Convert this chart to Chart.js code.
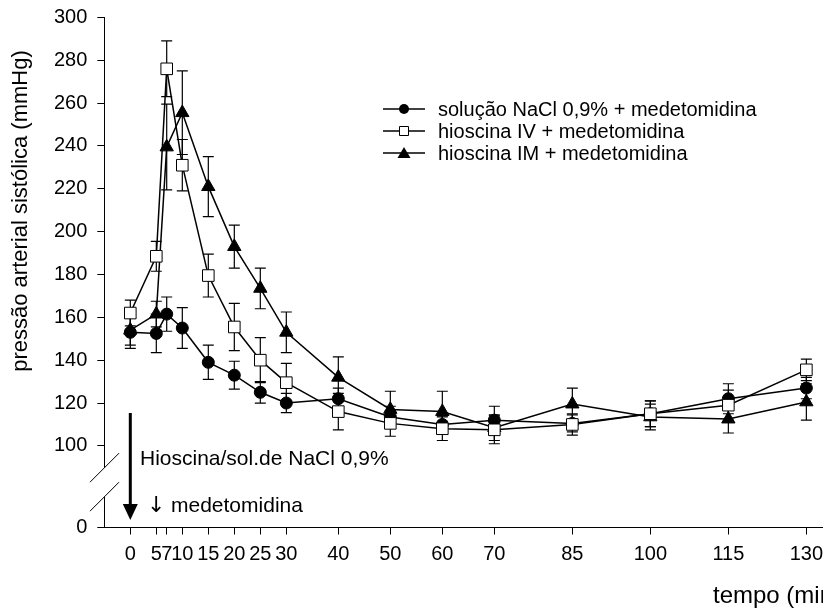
<!DOCTYPE html>
<html>
<head>
<meta charset="utf-8">
<script src="https://cdn.jsdelivr.net/npm/chart.js@4.4.0/dist/chart.umd.min.js"></script>
<style>
html, body { margin: 0; padding: 0; background: #fff; }
#wrap { width: 823px; height: 616px; }
</style>
</head>
<body>
<div id="wrap"><canvas id="chart" width="823" height="616"></canvas></div>
<script>
// tempo (min)
const times = [0, 5, 7, 10, 15, 20, 25, 30, 40, 50, 60, 70, 85, 100, 115, 130];

// pressão arterial sistólica (mmHg), média e erro
const naclMean = [153, 152.5, 161.5, 155, 139, 133, 125, 120, 122, 113.5, 110, 112, 110.5, 115, 122, 127];
const naclErr  = [7.5, 9, 8, 9.5, 8, 6.5, 5, 4.5, 5, 5, 4, 6.5, 4, 6, 7, 5];

const ivMean = [162, 188.5, 276, 231, 179.5, 155.5, 140, 129.5, 116, 110.5, 108, 107.5, 110, 115, 119, 135.5];
const ivErr  = [6, 7, 13, 12, 10, 11, 10.5, 9, 8.5, 6, 5.5, 6.5, 5, 6, 7, 5];

const imMean = [154, 161.5, 239.5, 255.5, 221, 193, 173.5, 153, 132, 117, 116, 108.5, 119.5, 113.5, 112.5, 120.5];
const imErr  = [7, 6, 20, 19.5, 14, 10, 9.5, 9.5, 9.5, 8.5, 9.5, 6, 7.5, 6, 6.5, 8.5];

const seriesLabels = ['solução NaCl 0,9% + medetomidina', 'hioscina IV + medetomidina', 'hioscina IM + medetomidina'];

// axis ticks (the "0" tick sits under the axis break)
const xTicks = times;
const yTicks = [100, 120, 140, 160, 180, 200, 220, 240, 260, 280, 300];
const yBreakBase = 61.9;

const FONT = 'Liberation Sans, Arial, sans-serif';

function toPoints(means) {
    return times.map((t, i) => ({ x: t, y: means[i] }));
}

const errorsByDataset = [naclErr, ivErr, imErr];

// Error bars drawn before the markers so the open squares cover them
const errorBars = {
    id: 'errorBars',
    beforeDatasetsDraw(chart) {
        const ctx = chart.ctx, xs = chart.scales.x, ys = chart.scales.y;
        ctx.save();
        ctx.strokeStyle = '#000';
        ctx.lineWidth = 1.2;
        chart.data.datasets.forEach((ds, d) => {
            const errs = errorsByDataset[d];
            ds.data.forEach((p, i) => {
                const x = xs.getPixelForValue(p.x);
                const yTop = ys.getPixelForValue(p.y + errs[i]);
                const yBot = ys.getPixelForValue(p.y - errs[i]);
                ctx.beginPath();
                ctx.moveTo(x, yTop); ctx.lineTo(x, yBot);
                ctx.moveTo(x - 5.5, yTop); ctx.lineTo(x + 5.5, yTop);
                ctx.moveTo(x - 5.5, yBot); ctx.lineTo(x + 5.5, yBot);
                ctx.stroke();
            });
        });
        ctx.restore();
    }
};

function drawMarker(ctx, style, x, y) {
    ctx.beginPath();
    if (style === 'circle') {
        ctx.arc(x, y, 5, 0, Math.PI * 2);
        ctx.fillStyle = '#000';
        ctx.fill();
    } else if (style === 'rect') {
        ctx.rect(x - 4.5, y - 4.5, 9, 9);
        ctx.fillStyle = '#fff';
        ctx.fill();
        ctx.lineWidth = 1;
        ctx.stroke();
    } else {
        ctx.moveTo(x, y - 6);
        ctx.lineTo(x + 6.5, y + 5);
        ctx.lineTo(x - 6.5, y + 5);
        ctx.closePath();
        ctx.fillStyle = '#000';
        ctx.fill();
    }
}

// Axis break, legend, annotations and axis titles
const decorations = {
    id: 'decorations',
    afterDraw(chart) {
        const ctx = chart.ctx, xs = chart.scales.x, ys = chart.scales.y;
        const axisX = chart.chartArea.left;
        ctx.save();

        // break in the y axis
        const b1 = ys.getPixelForValue(100) + 22;
        const b2 = b1 + 29;
        ctx.fillStyle = '#fff';
        ctx.fillRect(axisX - 2, b1, 4, b2 - b1);
        ctx.strokeStyle = '#000';
        ctx.lineWidth = 1;
        [b1, b2].forEach(yc => {
            ctx.beginPath();
            ctx.moveTo(axisX - 14.3, yc + 14.3);
            ctx.lineTo(axisX + 14.7, yc - 14.7);
            ctx.stroke();
        });

        // legend
        const legendY = [109, 131, 153];
        const styles = ['circle', 'rect', 'triangle'];
        ctx.font = '20px ' + FONT;
        ctx.textBaseline = 'middle';
        ctx.textAlign = 'left';
        seriesLabels.forEach((label, i) => {
            const y = legendY[i];
            ctx.strokeStyle = '#000';
            ctx.lineWidth = 1.5;
            ctx.beginPath();
            ctx.moveTo(383, y); ctx.lineTo(425, y);
            ctx.stroke();
            drawMarker(ctx, styles[i], 404, y);
            ctx.fillStyle = '#000';
            ctx.fillText(label, 438, y + 1);
        });

        // injection arrow at t = 0
        const ax = xs.getPixelForValue(0);
        ctx.strokeStyle = '#000';
        ctx.fillStyle = '#000';
        ctx.lineWidth = 3;
        ctx.beginPath();
        ctx.moveTo(ax, 413); ctx.lineTo(ax, 506);
        ctx.stroke();
        ctx.beginPath();
        ctx.moveTo(ax - 7.5, 504); ctx.lineTo(ax + 7.5, 504); ctx.lineTo(ax, 520);
        ctx.closePath();
        ctx.fill();

        ctx.font = '21px ' + FONT;
        ctx.textBaseline = 'alphabetic';
        ctx.fillText('Hioscina/sol.de NaCl 0,9%', 140, 465);
        ctx.fillText('medetomidina', 171, 511.5);
        ctx.font = '22px DejaVu Sans, sans-serif';
        ctx.fillText('↓', 147, 511.5);

        // axis titles
        ctx.font = '24px ' + FONT;
        ctx.fillText('tempo (min)', 713, 603);
        ctx.font = '22px ' + FONT;
        ctx.translate(21, 211);
        ctx.rotate(-Math.PI / 2);
        ctx.textAlign = 'center';
        ctx.textBaseline = 'middle';
        ctx.fillText('pressão arterial sistólica (mmHg)', 0, 0);
        ctx.restore();
    }
};

const lineStyle = {
    borderColor: '#000',
    borderWidth: 1.5,
    pointBorderColor: '#000',
    pointBorderWidth: 1,
    tension: 0,
    fill: false,
    clip: false
};

new Chart(document.getElementById('chart').getContext('2d'), {
    type: 'line',
    data: {
        datasets: [
            Object.assign({}, lineStyle, {
                label: seriesLabels[0], data: toPoints(naclMean), order: 1,
                pointStyle: 'circle', pointRadius: 6, pointBackgroundColor: '#000'
            }),
            Object.assign({}, lineStyle, {
                label: seriesLabels[1], data: toPoints(ivMean), order: 0,
                pointStyle: 'rect', pointRadius: 8.2, pointBackgroundColor: '#fff'
            }),
            Object.assign({}, lineStyle, {
                label: seriesLabels[2], data: toPoints(imMean), order: 2,
                pointStyle: 'triangle', pointRadius: 7.7, pointBackgroundColor: '#000'
            })
        ]
    },
    options: {
        responsive: false,
        animation: false,
        devicePixelRatio: 1,
        layout: { autoPadding: false, padding: { top: 17.4, right: 0, bottom: 0, left: 0 } },
        plugins: { legend: { display: false }, tooltip: { enabled: false } },
        scales: {
            x: {
                type: 'linear',
                min: -5,
                max: 133.2,
                afterBuildTicks: scale => { scale.ticks = xTicks.map(v => ({ value: v })); },
                afterFit: scale => {
                    scale.height = 88.5;
                    scale.paddingLeft = 0;
                    scale.paddingRight = 0;
                },
                grid: { drawOnChartArea: false, color: '#000', tickLength: 7 },
                border: { display: true, color: '#000', width: 1 },
                ticks: {
                    autoSkip: false, maxRotation: 0, color: '#000', padding: 0,
                    font: { family: FONT, size: 20, lineHeight: 2 }
                }
            },
            y: {
                type: 'linear',
                min: yBreakBase,
                max: 300,
                afterBuildTicks: scale => {
                    scale.ticks = [{ value: yBreakBase }].concat(yTicks.map(v => ({ value: v })));
                },
                afterFit: scale => {
                    scale.width = 104.3;
                    scale.paddingTop = 0;
                    scale.paddingBottom = 0;
                },
                grid: { drawOnChartArea: false, color: '#000', tickLength: 7 },
                border: { display: true, color: '#000', width: 1 },
                ticks: {
                    color: '#000', padding: 10,
                    font: { family: FONT, size: 20 },
                    callback: v => (v < 100 ? '0' : String(v))
                }
            }
        }
    },
    plugins: [errorBars, decorations]
});
</script>
</body>
</html>
